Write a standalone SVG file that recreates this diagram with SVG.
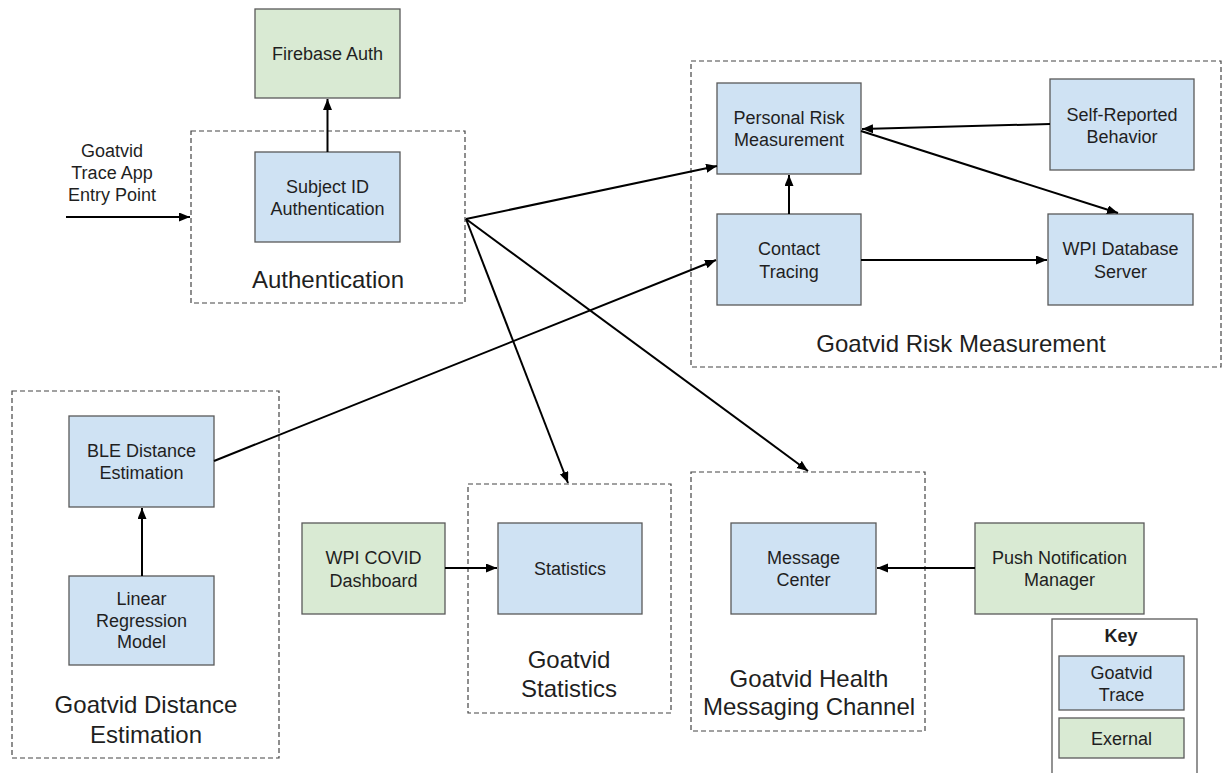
<svg xmlns="http://www.w3.org/2000/svg" width="1223" height="773" viewBox="0 0 1223 773">
  <style>
    .box { stroke: #595959; stroke-width: 1.3; }
    .trace { fill: #cfe2f3; }
    .ext { fill: #d9ead3; }
    .group { fill: none; stroke: #444444; stroke-width: 1.2; stroke-dasharray: 5 3; }
    .key { fill: #ffffff; stroke: #595959; stroke-width: 1.3; }
    text { font-family: "Liberation Sans", Arial, sans-serif; fill: #1f1f1f; text-anchor: middle; }
    .t { font-size: 18px; }
    .g { font-size: 24px; }
    .b { font-size: 18px; font-weight: bold; }
    .conn line { stroke: #000000; stroke-width: 2; marker-end: url(#arrow); }
  </style>
  <defs>
    <marker id="arrow" markerUnits="userSpaceOnUse" markerWidth="12" markerHeight="10" refX="11" refY="4.5" orient="auto">
      <path d="M0,0 L11,4.5 L0,9 z" fill="#000000"/>
    </marker>
  </defs>

  <rect width="1223" height="773" fill="#ffffff"/>

  <!-- dashed subsystem boundaries -->
  <g id="grp-authentication">
    <rect class="group" x="191" y="131" width="274" height="172"/>
    <text class="g" x="328" y="288">Authentication</text>
  </g>
  <g id="grp-risk">
    <rect class="group" x="691" y="61" width="530" height="306"/>
    <text class="g" x="961" y="352">Goatvid Risk Measurement</text>
  </g>
  <g id="grp-distance">
    <rect class="group" x="12" y="391" width="267" height="367"/>
    <text class="g" x="146" y="713">Goatvid Distance</text>
    <text class="g" x="146" y="743">Estimation</text>
  </g>
  <g id="grp-statistics">
    <rect class="group" x="468" y="484" width="203" height="229"/>
    <text class="g" x="569" y="668">Goatvid</text>
    <text class="g" x="569" y="697">Statistics</text>
  </g>
  <g id="grp-health">
    <rect class="group" x="691" y="472" width="234" height="259"/>
    <text class="g" x="809" y="687">Goatvid Health</text>
    <text class="g" x="809" y="715">Messaging Channel</text>
  </g>

  <!-- entry point label -->
  <g id="entry-point">
    <text class="t" x="112" y="157">Goatvid</text>
    <text class="t" x="112" y="179">Trace App</text>
    <text class="t" x="112" y="201">Entry Point</text>
  </g>

  <!-- components -->
  <g id="firebase-auth">
    <rect class="box ext" x="255" y="9" width="145" height="89"/>
    <text class="t" x="327.5" y="60">Firebase Auth</text>
  </g>
  <g id="subject-id-auth">
    <rect class="box trace" x="255" y="152" width="145" height="90"/>
    <text class="t" x="327.5" y="193">Subject ID</text>
    <text class="t" x="327.5" y="215">Authentication</text>
  </g>
  <g id="personal-risk">
    <rect class="box trace" x="717" y="83" width="144" height="91"/>
    <text class="t" x="789" y="124">Personal Risk</text>
    <text class="t" x="789" y="146">Measurement</text>
  </g>
  <g id="self-reported">
    <rect class="box trace" x="1050" y="79" width="144" height="91"/>
    <text class="t" x="1122" y="121">Self-Reported</text>
    <text class="t" x="1122" y="143">Behavior</text>
  </g>
  <g id="contact-tracing">
    <rect class="box trace" x="717" y="214" width="144" height="91"/>
    <text class="t" x="789" y="255">Contact</text>
    <text class="t" x="789" y="278">Tracing</text>
  </g>
  <g id="wpi-database">
    <rect class="box trace" x="1048" y="214" width="145" height="91"/>
    <text class="t" x="1120.5" y="255">WPI Database</text>
    <text class="t" x="1120.5" y="278">Server</text>
  </g>
  <g id="ble-distance">
    <rect class="box trace" x="69" y="416" width="145" height="91"/>
    <text class="t" x="141.5" y="457">BLE Distance</text>
    <text class="t" x="141.5" y="479">Estimation</text>
  </g>
  <g id="linear-regression">
    <rect class="box trace" x="69" y="576" width="145" height="89"/>
    <text class="t" x="141.5" y="605">Linear</text>
    <text class="t" x="141.5" y="627">Regression</text>
    <text class="t" x="141.5" y="648">Model</text>
  </g>
  <g id="wpi-covid-dashboard">
    <rect class="box ext" x="302" y="523" width="143" height="91"/>
    <text class="t" x="373.5" y="564">WPI COVID</text>
    <text class="t" x="373.5" y="587">Dashboard</text>
  </g>
  <g id="statistics">
    <rect class="box trace" x="498" y="523" width="144" height="91"/>
    <text class="t" x="570" y="575">Statistics</text>
  </g>
  <g id="message-center">
    <rect class="box trace" x="731" y="523" width="145" height="91"/>
    <text class="t" x="803.5" y="564">Message</text>
    <text class="t" x="803.5" y="586">Center</text>
  </g>
  <g id="push-notification">
    <rect class="box ext" x="975" y="523" width="169" height="91"/>
    <text class="t" x="1059.5" y="564">Push Notification</text>
    <text class="t" x="1059.5" y="586">Manager</text>
  </g>

  <!-- legend -->
  <g id="key">
    <rect class="key" x="1052" y="619" width="145" height="170"/>
    <text class="b" x="1121" y="642">Key</text>
    <rect class="box trace" x="1059" y="656" width="125" height="54"/>
    <text class="t" x="1121.5" y="679">Goatvid</text>
    <text class="t" x="1121.5" y="701">Trace</text>
    <rect class="box ext" x="1059" y="718" width="125" height="40"/>
    <text class="t" x="1121.5" y="745">Exernal</text>
  </g>

  <!-- connectors -->
  <g id="connectors" class="conn">
    <line x1="66" y1="217" x2="190" y2="217"/>
    <line x1="327.5" y1="152" x2="327.5" y2="99"/>
    <line x1="466" y1="219" x2="717" y2="166"/>
    <line x1="466" y1="219" x2="568" y2="483"/>
    <line x1="466" y1="219" x2="808" y2="471"/>
    <line x1="214" y1="461" x2="716" y2="260"/>
    <line x1="789" y1="214" x2="789" y2="175"/>
    <line x1="1050" y1="124" x2="862" y2="129"/>
    <line x1="861" y1="131" x2="1118" y2="213"/>
    <line x1="861" y1="260" x2="1047" y2="260"/>
    <line x1="142" y1="576" x2="142" y2="508"/>
    <line x1="445" y1="568" x2="497" y2="568"/>
    <line x1="975" y1="568" x2="877" y2="568"/>
  </g>
</svg>
